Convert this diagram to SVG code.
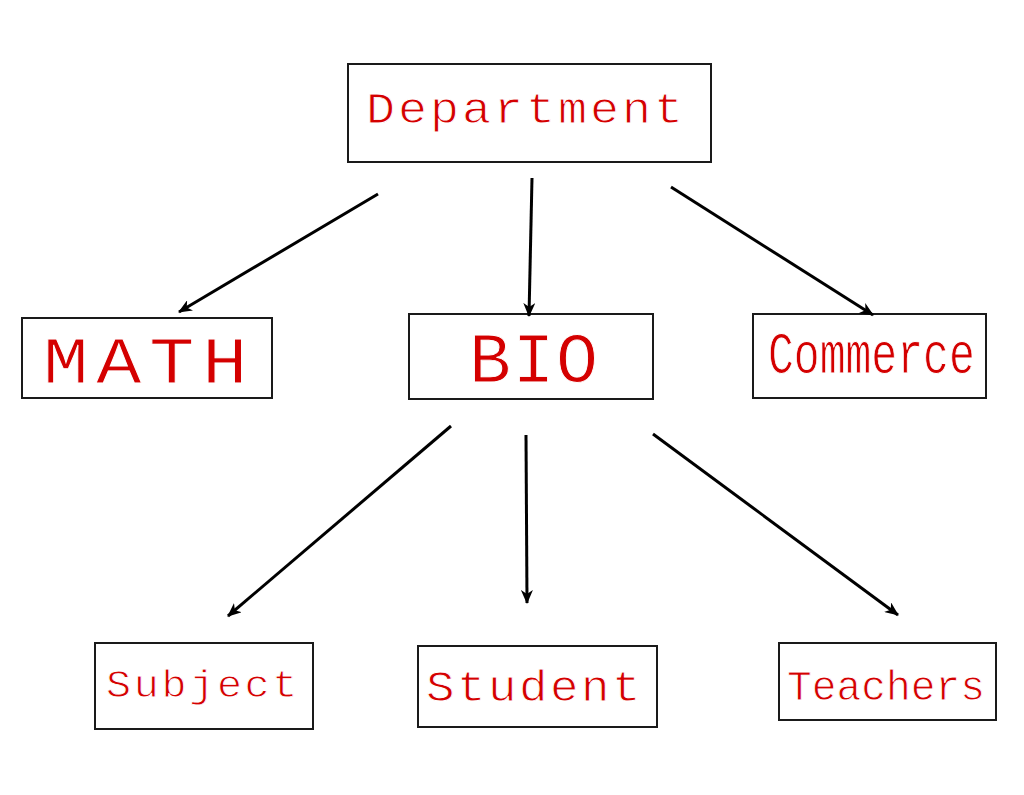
<svg xmlns="http://www.w3.org/2000/svg" width="1024" height="795" viewBox="0 0 1024 795">
<defs>
<style>
.box{fill:#fff;stroke:#1a1a1a;stroke-width:2}
.lbl{font-family:"Liberation Mono","Courier New",monospace;fill:#d40000;stroke:#fff;stroke-width:0.9}
.edge{stroke:#000;stroke-width:3;fill:none;marker-end:url(#ah)}
</style>
<marker id="ah" markerUnits="userSpaceOnUse" markerWidth="14" markerHeight="12" viewBox="0 0 14 12" refX="13" refY="6" orient="auto">
<path d="M0,0 L14,6 L0,12 L4,6 Z" fill="#000"/>
</marker>
</defs>
<rect width="1024" height="795" fill="#fff"/>
<g id="department">
<rect class="box" x="348" y="64" width="363" height="98"/>
<text class="lbl" font-size="44" letter-spacing="2.7" transform="translate(366,123) scale(1.1,1)">Department</text>
</g>
<g id="math">
<rect class="box" x="22" y="318" width="250" height="80"/>
<text class="lbl" font-size="66" letter-spacing="6.5" stroke-width="1.4" transform="translate(43,383) scale(1.15,1)">MATH</text>
</g>
<g id="bio">
<rect class="box" x="409" y="314" width="244" height="85"/>
<text class="lbl" font-size="70" letter-spacing="1.5" stroke-width="1.4" transform="translate(469,382)">BIO</text>
</g>
<g id="commerce">
<rect class="box" x="753" y="314" width="233" height="84"/>
<text class="lbl" font-size="59" stroke-width="1.2" transform="translate(768,373) scale(0.73,1)">Commerce</text>
</g>
<g id="subject">
<rect class="box" x="95" y="643" width="218" height="86"/>
<text class="lbl" font-size="38" letter-spacing="2.4" transform="translate(106,697) scale(1.1,1)">Subject</text>
</g>
<g id="student">
<rect class="box" x="418" y="646" width="239" height="81"/>
<text class="lbl" font-size="44" letter-spacing="2.3" transform="translate(426,701) scale(1.08,1)">Student</text>
</g>
<g id="teachers">
<rect class="box" x="779" y="643" width="217" height="77"/>
<text class="lbl" font-size="43" transform="translate(787,700) scale(0.96,1)">Teachers</text>
</g>
<g id="connectors">
<line class="edge" x1="378" y1="194" x2="179" y2="312"/>
<line class="edge" x1="532" y1="178" x2="529" y2="316"/>
<line class="edge" x1="671" y1="187" x2="873" y2="315"/>
<line class="edge" x1="451" y1="426" x2="228" y2="616"/>
<line class="edge" x1="526" y1="435" x2="527" y2="603"/>
<line class="edge" x1="653" y1="434" x2="898" y2="615"/>
</g>
</svg>
